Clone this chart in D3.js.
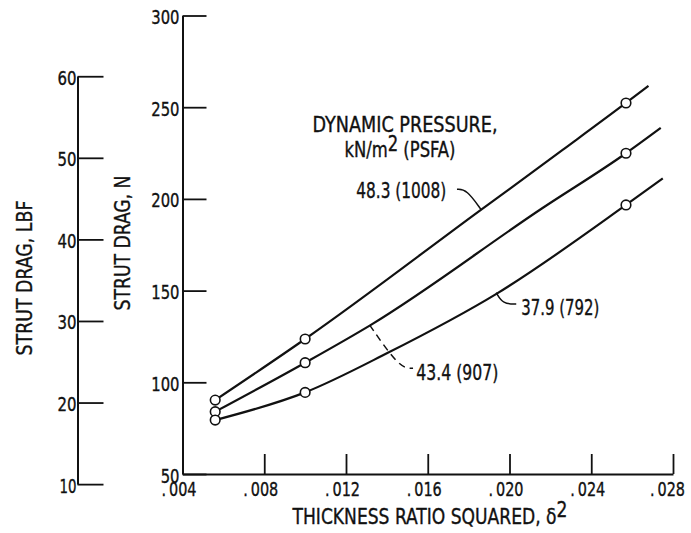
<!DOCTYPE html>
<meta charset="utf-8">
<html>
<head>
  <title>Strut drag vs thickness ratio squared</title>
  <style>
    body { margin: 0; background: #fff; }
    svg text { font-family: "Liberation Sans Narrow", "DejaVu Sans Condensed", "Liberation Sans", sans-serif; fill: #111; stroke: #111; stroke-width: 0.35px; }
  </style>
</head>
<body>

  <svg id="chart" width="691" height="533"></svg>

  <script src="https://d3js.org/d3.v7.min.js"></script>
  <script>

    // thickness ratio squared of the three struts (circles)
    var thicknessRatioSq = [0.0056, 0.0100, 0.0257];

    // strut drag, N, at each dynamic pressure
    var drag483 = [90.3, 123.6, 252.3];
    var drag434 = [84.0, 110.7, 224.9];
    var drag379 = [79.4, 94.5, 196.7];

    // faired curves [delta^2, N]
    var curve483 = [[0.0056, 90.3], [0.0100, 123.6], [0.0186, 194.0], [0.0226, 226.7], [0.0257, 252.3], [0.0268, 261.6]];
    var curve434 = [[0.0056, 84.0], [0.0100, 110.7], [0.0132, 131.2], [0.0216, 194.9], [0.0257, 224.9], [0.0274, 238.7]];
    var curve379 = [[0.0056, 79.4], [0.0100, 94.5], [0.0140, 115.8], [0.0194, 148.5], [0.0257, 196.7], [0.0275, 211.2]];

    var xTicks = [0.004, 0.008, 0.012, 0.016, 0.020, 0.024, 0.028];
    var yTicksN = [50, 100, 150, 200, 250, 300];
    var yTicksLbf = [10, 20, 30, 40, 50, 60];
    var lbfToN = 4.448;

    var svg = d3.select("#chart");

    var x = d3.scaleLinear().domain([0.004, 0.028]).range([182.5, 673]);
    var y = d3.scaleLinear().domain([50, 300]).range([474, 15.5]);
    var yLbf = d3.scaleLinear().domain([10, 60]).range([y(10 * lbfToN), y(60 * lbfToN)]);

    // squeeze text to the narrow lettering of the original
    function narrow(sel, len) {
      sel.attr("textLength", len).attr("lengthAdjust", "spacingAndGlyphs");
    }

    // --- axes ---
    var gx = svg.append("g")
      .attr("transform", "translate(0," + y(50) + ")")
      .call(d3.axisBottom(x).tickValues(xTicks).tickSizeInner(-20).tickSizeOuter(0).tickPadding(8)
        .tickFormat(function (d) { return ".\u2009" + d3.format(".3f")(d).slice(2) }));

    var gy = svg.append("g")
      .attr("transform", "translate(" + x(0.004) + ",0)")
      .call(d3.axisLeft(y).tickValues(yTicksN).tickSizeInner(-24).tickSizeOuter(0).tickPadding(3));

    var gl = svg.append("g")
      .attr("transform", "translate(77.5,0)")
      .call(d3.axisLeft(yLbf).tickValues(yTicksLbf).tickSizeInner(-26).tickSizeOuter(0).tickPadding(1));

    [gx, gy, gl].forEach(function (g) {
      g.select(".domain").attr("stroke", "#111").attr("stroke-width", 2);
      g.selectAll(".tick line").attr("stroke", "#111").attr("stroke-width", 1.8);
      g.selectAll(".tick text").style("font-size", "20px").attr("fill", "#111");
    });
    gx.selectAll(".tick text").attr("dx", function (d) { return d === 0.028 ? "-6" : "-4" }).call(narrow, 35);
    gy.selectAll(".tick text").attr("dy", "0.4em").call(narrow, function (d) { return String(d).length * 9.4 });
    gl.selectAll(".tick text").attr("dy", "0.4em").call(narrow, function (d) { return d === 10 ? 17 : 19 });

    // axis titles
    var xt = svg.append("text")
      .attr("x", 430).attr("y", 524)
      .attr("text-anchor", "middle")
      .style("font-size", "22px");
    xt.append("tspan").text("THICKNESS RATIO SQUARED, δ");
    xt.append("tspan").attr("dy", -7).text("2");
    narrow(xt, 275);

    svg.append("text")
      .attr("transform", "translate(130,243) rotate(-90)")
      .attr("text-anchor", "middle")
      .style("font-size", "22px")
      .text("STRUT DRAG, N")
      .call(narrow, 135);

    svg.append("text")
      .attr("transform", "translate(31.5,278) rotate(-90)")
      .attr("text-anchor", "middle")
      .style("font-size", "22px")
      .text("STRUT DRAG, LBF")
      .call(narrow, 155);

    // --- curves ---
    var line = d3.line()
      .x(function (d) { return x(d[0]) })
      .y(function (d) { return y(d[1]) })
      .curve(d3.curveMonotoneX);

    svg.selectAll("curves")
      .data([curve483, curve434, curve379])
      .enter()
      .append("path")
      .attr("d", line)
      .attr("fill", "none")
      .attr("stroke", "#111")
      .attr("stroke-width", 2.2);

    [drag483, drag434, drag379].forEach(function (series) {
      svg.selectAll("pts")
        .data(series)
        .enter()
        .append("circle")
        .attr("cx", function (d, i) { return x(thicknessRatioSq[i]) })
        .attr("cy", function (d) { return y(d) })
        .attr("r", 4.8)
        .attr("fill", "#fff")
        .attr("stroke", "#111")
        .attr("stroke-width", 1.6);
    });

    // --- labels ---
    svg.append("text")
      .attr("x", x(0.01489)).attr("y", y(236.6))
      .attr("text-anchor", "middle")
      .style("font-size", "21px")
      .text("DYNAMIC PRESSURE,")
      .call(narrow, 185);

    var kn = svg.append("text")
      .attr("x", x(0.01464)).attr("y", y(223))
      .attr("text-anchor", "middle")
      .style("font-size", "21px");
    kn.append("tspan").text("kN/m");
    kn.append("tspan").attr("dy", -6).text("2");
    kn.append("tspan").attr("dy", 6).text(" (PSFA)");
    narrow(kn, 111);

    var labels = [
      { text: "48.3 (1008)", at: [0.01691, 200.3], anchor: "end", len: 90, lead: [[0.01743, 205.2], [0.0179, 205.2], [0.01862, 194]], dash: null },
      { text: "43.4 (907)", at: [0.01544, 101.3], anchor: "start", len: 82, lead: [[0.01316, 131.2], [0.01463, 107.6], [0.01528, 107.6]], dash: "7,5" },
      { text: "37.9 (792)", at: [0.02058, 136.7], anchor: "start", len: 78, lead: [[0.01935, 148.9], [0.01968, 142.7], [0.02033, 142.7]], dash: null }
    ];

    var lead = d3.line()
      .x(function (d) { return x(d[0]) })
      .y(function (d) { return y(d[1]) })
      .curve(d3.curveBasis);

    labels.forEach(function (l) {
      svg.append("text")
        .attr("x", x(l.at[0])).attr("y", y(l.at[1]))
        .attr("text-anchor", l.anchor)
        .style("font-size", "21px")
        .text(l.text)
        .call(narrow, l.len);
      svg.append("path")
        .attr("d", lead(l.lead))
        .attr("fill", "none")
        .attr("stroke", "#111")
        .attr("stroke-width", 1.5)
        .style("stroke-dasharray", l.dash);
    });

  </script>
</body>
</html>
